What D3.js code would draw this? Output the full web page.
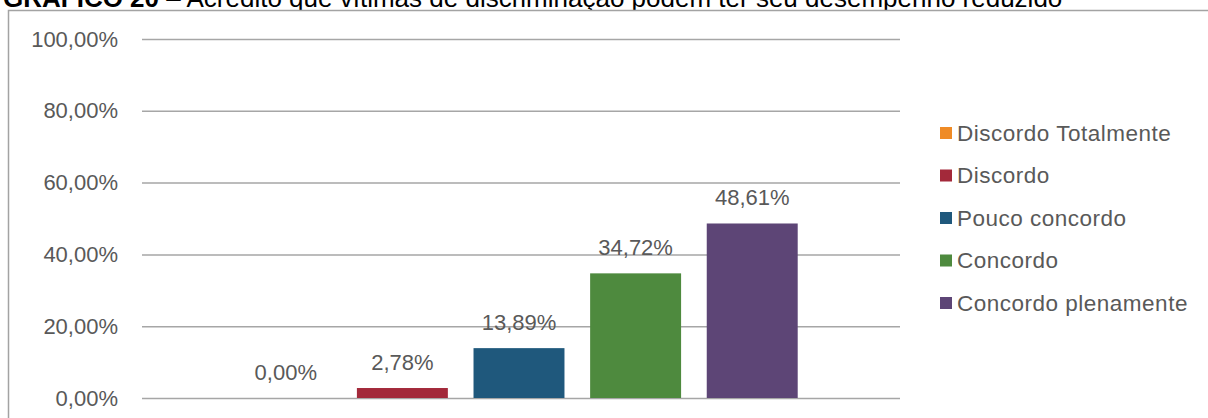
<!DOCTYPE html>
<html lang="pt-BR">
<head>
<meta charset="utf-8">
<script src="https://cdn.jsdelivr.net/npm/d3@7"></script>
<style>
  html, body { margin: 0; padding: 0; background: #ffffff; }
  svg { display: block; font-family: "Liberation Sans", Arial, sans-serif; }
</style>
</head>
<body>
<svg id="chart" width="1208" height="418"></svg>
<script>
// Response categories (one bar each) and their shares in percent
const categories = ["Discordo Totalmente", "Discordo", "Pouco concordo", "Concordo", "Concordo plenamente"];
const values = [0, 2.78, 13.89, 34.72, 48.61];
const colors = ["#EF8B26", "#A3293A", "#1F587C", "#4E8A3E", "#5D4576"];
const yTicks = [0, 20, 40, 60, 80, 100];
const titleBold = "GRÁFICO 20";
const titleRest = " – Acredito que vítimas de discriminação podem ter seu desempenho reduzido";

const ptBR = d3.formatLocale({ decimal: ",", thousands: ".", grouping: [3], currency: ["R$", ""] });
const fmt = v => ptBR.format(".2f")(v) + "%";

const svg = d3.select("#chart");
const plot = { left: 142, right: 900, top: 39, bottom: 398 };

// Caption above the chart frame
const title = svg.append("text")
  .attr("x", 3).attr("y", 7)
  .attr("font-size", 26).attr("fill", "#000");
title.append("tspan").attr("font-weight", "bold").text(titleBold);
title.append("tspan").text(titleRest);

// Chart frame
svg.append("rect")
  .attr("x", 8.5).attr("y", 10.5)
  .attr("width", 1260).attr("height", 460)
  .attr("fill", "#ffffff")
  .attr("stroke", "#a3a3a3").attr("stroke-width", 1.5);

const x = d3.scaleBand()
  .domain(categories)
  .range([plot.left, plot.right])
  .paddingInner(0.22)
  .paddingOuter(0.86)
  .align(0.49);

const y = d3.scaleLinear()
  .domain([0, 100])
  .range([plot.bottom, plot.top]);

// Y axis with gridlines
const yAxis = svg.append("g")
  .attr("transform", `translate(${plot.left},0)`)
  .call(d3.axisLeft(y)
    .tickValues(yTicks)
    .tickSize(-(plot.right - plot.left))
    .tickPadding(24)
    .tickFormat(fmt));
yAxis.select(".domain").remove();
yAxis.selectAll(".tick line")
  .attr("stroke", "#a6a6a6").attr("stroke-width", 1.5);
yAxis.selectAll(".tick text")
  .attr("font-size", 22)
  .attr("font-family", "'Liberation Sans', Arial, sans-serif")
  .attr("fill", "#595959");

// Bars
svg.append("g").selectAll("rect")
  .data(categories)
  .join("rect")
  .attr("x", d => x(d))
  .attr("width", x.bandwidth())
  .attr("y", (d, i) => y(values[i]))
  .attr("height", (d, i) => y(0) - y(values[i]))
  .attr("fill", (d, i) => colors[i]);

// Value labels
svg.append("g").selectAll("text")
  .data(categories)
  .join("text")
  .attr("x", d => x(d) + x.bandwidth() / 2)
  .attr("y", (d, i) => y(values[i]) - 18)
  .attr("text-anchor", "middle")
  .attr("font-size", 22)
  .attr("fill", "#595959")
  .text((d, i) => fmt(values[i]));

// Legend
const legend = svg.append("g").attr("transform", "translate(940,0)");
const legendY = d3.scalePoint().domain(categories).range([133, 303]);
const item = legend.selectAll("g")
  .data(categories)
  .join("g")
  .attr("transform", d => `translate(0,${legendY(d)})`);
item.append("rect")
  .attr("x", 0).attr("y", -6)
  .attr("width", 12).attr("height", 12)
  .attr("fill", (d, i) => colors[i]);
item.append("text")
  .attr("x", 17).attr("y", 0)
  .attr("dy", "0.35em")
  .attr("font-size", 22.5)
  .attr("letter-spacing", 0.5)
  .attr("fill", "#595959")
  .text(d => d);
</script>
</body>
</html>
